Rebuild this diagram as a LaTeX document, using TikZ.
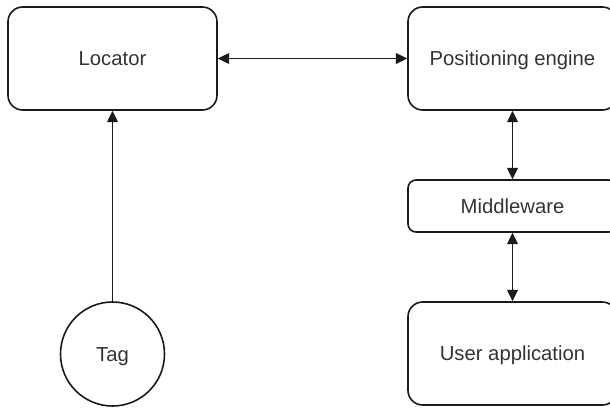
\documentclass[tikz,border=0pt]{standalone}
\usepackage{fontspec}
\setmainfont{Liberation Sans}
\usetikzlibrary{arrows.meta}
\definecolor{txt}{HTML}{333333}
\definecolor{ln}{HTML}{1A1A1A}
\tikzset{
  lbl/.style={text=txt, font=\fontsize{15.2}{18}\selectfont, text height=10.9pt, text depth=0pt},
  box/.style={draw=ln, line width=1.2pt, rounded corners=11pt, minimum width=209*0.75pt, lbl, inner sep=0pt},
  tall/.style={box, minimum height=103*0.75pt},
  short/.style={box, minimum height=52*0.75pt, rounded corners=6pt},
  circ/.style={draw=ln, line width=1.2pt, circle, minimum size=104*0.75pt, lbl, inner sep=0pt},
  conn/.style={draw=ln, line width=1.2pt, {Triangle[length=8.5pt,width=8pt]}-{Triangle[length=8.5pt,width=8pt]}},
  oneway/.style={draw=ln, line width=1.2pt, -{Triangle[length=8.5pt,width=8pt]}}
}
\begin{document}
\begin{tikzpicture}[x=0.75pt,y=-0.75pt]
\useasboundingbox (0,0) rectangle (610,408);
\node[tall] (loc) at (112.5,58.5) {Locator};
\node[tall] (pe) at (512.5,58.5) {Positioning engine};
\node[short] (mw) at (512.5,206) {Middleware};
\node[tall] (ua) at (512.5,353.5) {User application};
\node[circ] (tag) at (112.5,354) {Tag};
\draw[conn] (loc.east) -- (pe.west);
\draw[oneway] (tag.north) -- (loc.south);
\draw[conn] (pe.south) -- (mw.north);
\draw[conn] (mw.south) -- (ua.north);
\end{tikzpicture}
\end{document}
